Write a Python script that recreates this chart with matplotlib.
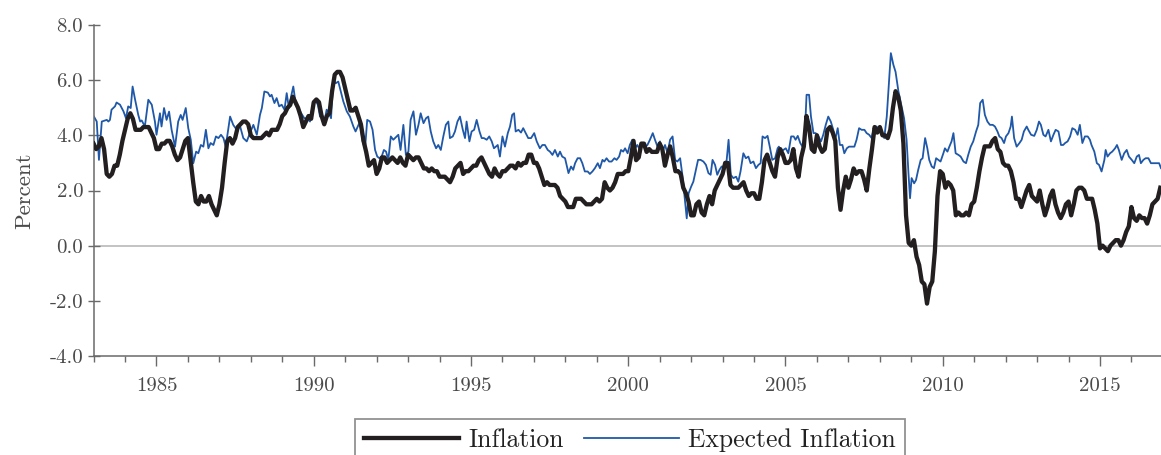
import numpy as np
import matplotlib
matplotlib.use("Agg")
import matplotlib.pyplot as plt
from matplotlib.ticker import MultipleLocator, FixedLocator

# ---------------- data ----------------
start_year = 1983
inflation = [
    3.7, 3.5, 3.6, 3.9, 3.5, 2.6, 2.5, 2.6, 2.9, 2.9, 3.3, 3.8,   # 1983
    4.2, 4.6, 4.8, 4.6, 4.2, 4.2, 4.2, 4.3, 4.3, 4.3, 4.1, 3.9,   # 1984
    3.5, 3.5, 3.7, 3.7, 3.8, 3.8, 3.6, 3.3, 3.1, 3.2, 3.5, 3.8,   # 1985
    3.9, 3.1, 2.3, 1.6, 1.5, 1.8, 1.6, 1.6, 1.8, 1.5, 1.3, 1.1,   # 1986
    1.5, 2.1, 3.0, 3.8, 3.9, 3.7, 3.9, 4.3, 4.4, 4.5, 4.5, 4.4,   # 1987
    4.0, 3.9, 3.9, 3.9, 3.9, 4.0, 4.1, 4.0, 4.2, 4.2, 4.2, 4.4,   # 1988
    4.7, 4.8, 5.0, 5.1, 5.4, 5.2, 5.0, 4.7, 4.3, 4.5, 4.7, 4.6,   # 1989
    5.2, 5.3, 5.2, 4.7, 4.4, 4.7, 4.8, 5.6, 6.2, 6.3, 6.3, 6.1,   # 1990
    5.7, 5.3, 4.9, 4.9, 5.0, 4.7, 4.4, 3.8, 3.4, 2.9, 3.0, 3.1,   # 1991
    2.6, 2.8, 3.2, 3.2, 3.0, 3.1, 3.2, 3.1, 3.0, 3.2, 3.0, 2.9,   # 1992
    3.3, 3.2, 3.1, 3.2, 3.2, 3.0, 2.8, 2.8, 2.7, 2.8, 2.7, 2.7,   # 1993
    2.5, 2.5, 2.5, 2.4, 2.3, 2.5, 2.8, 2.9, 3.0, 2.6, 2.7, 2.7,   # 1994
    2.8, 2.9, 2.9, 3.1, 3.2, 3.0, 2.8, 2.6, 2.5, 2.8, 2.6, 2.5,   # 1995
    2.7, 2.7, 2.8, 2.9, 2.9, 2.8, 3.0, 2.9, 3.0, 3.0, 3.3, 3.3,   # 1996
    3.0, 3.0, 2.8, 2.5, 2.2, 2.3, 2.2, 2.2, 2.2, 2.1, 1.8, 1.7,   # 1997
    1.6, 1.4, 1.4, 1.4, 1.7, 1.7, 1.7, 1.6, 1.5, 1.5, 1.5, 1.6,   # 1998
    1.7, 1.6, 1.7, 2.3, 2.1, 2.0, 2.1, 2.3, 2.6, 2.6, 2.6, 2.7,   # 1999
    2.7, 3.2, 3.8, 3.1, 3.2, 3.7, 3.7, 3.4, 3.5, 3.4, 3.4, 3.4,   # 2000
    3.7, 3.5, 2.9, 3.3, 3.6, 3.2, 2.7, 2.7, 2.6, 2.1, 1.9, 1.6,   # 2001
    1.1, 1.1, 1.5, 1.6, 1.2, 1.1, 1.5, 1.8, 1.5, 2.0, 2.2, 2.4,   # 2002
    2.6, 3.0, 3.0, 2.2, 2.1, 2.1, 2.1, 2.2, 2.3, 2.0, 1.8, 1.9,   # 2003
    1.9, 1.7, 1.7, 2.3, 3.1, 3.3, 3.0, 2.7, 2.5, 3.2, 3.5, 3.3,   # 2004
    3.0, 3.0, 3.1, 3.5, 2.8, 2.5, 3.2, 3.6, 4.7, 4.3, 3.5, 3.4,   # 2005
    4.0, 3.6, 3.4, 3.5, 4.2, 4.3, 4.1, 3.8, 2.1, 1.3, 2.0, 2.5,   # 2006
    2.1, 2.4, 2.8, 2.6, 2.7, 2.7, 2.4, 2.0, 2.8, 3.5, 4.3, 4.1,   # 2007
    4.3, 4.0, 4.0, 3.9, 4.2, 5.0, 5.6, 5.4, 4.9, 3.7, 1.1, 0.1,   # 2008
    0.0, 0.2, -0.4, -0.7, -1.3, -1.4, -2.1, -1.5, -1.3, -0.2, 1.8, 2.7,  # 2009
    2.6, 2.1, 2.3, 2.2, 2.0, 1.1, 1.2, 1.1, 1.1, 1.2, 1.1, 1.5,   # 2010
    1.6, 2.1, 2.7, 3.2, 3.6, 3.6, 3.6, 3.8, 3.9, 3.5, 3.4, 3.0,   # 2011
    2.9, 2.9, 2.7, 2.3, 1.7, 1.7, 1.4, 1.7, 2.0, 2.2, 1.8, 1.7,   # 2012
    1.6, 2.0, 1.5, 1.1, 1.4, 1.8, 2.0, 1.5, 1.2, 1.0, 1.2, 1.5,   # 2013
    1.6, 1.1, 1.5, 2.0, 2.1, 2.1, 2.0, 1.7, 1.7, 1.7, 1.3, 0.8,   # 2014
    -0.1, 0.0, -0.1, -0.2, 0.0, 0.1, 0.2, 0.2, 0.0, 0.2, 0.5, 0.7,  # 2015
    1.4, 1.0, 0.9, 1.1, 1.0, 1.0, 0.8, 1.1, 1.5, 1.6, 1.7, 2.1,   # 2016
]

exp_time = [
    1983.01, 1983.10, 1983.17, 1983.26, 1983.42, 1983.47, 1983.52, 1983.57, 1983.68, 1983.73,
    1983.84, 1983.95, 1984.03, 1984.10, 1984.18, 1984.24, 1984.32, 1984.42, 1984.48, 1984.53,
    1984.63, 1984.74, 1984.85, 1984.95, 1985.00, 1985.11, 1985.16, 1985.24, 1985.32, 1985.40,
    1985.48, 1985.59, 1985.69, 1985.77, 1985.83, 1985.93, 1986.01, 1986.09, 1986.17, 1986.26,
    1986.33, 1986.41, 1986.49, 1986.57, 1986.65, 1986.72, 1986.81, 1986.89, 1986.97, 1987.05,
    1987.13, 1987.20, 1987.34, 1987.44, 1987.55, 1987.66, 1987.76, 1987.87, 1987.97, 1988.08,
    1988.19, 1988.29, 1988.35, 1988.43, 1988.54, 1988.61, 1988.66, 1988.75, 1988.82, 1988.90,
    1988.98, 1989.07, 1989.14, 1989.21, 1989.28, 1989.35, 1989.43, 1989.51, 1989.60, 1989.70,
    1989.81, 1989.88, 1989.96, 1990.04, 1990.13, 1990.20, 1990.27, 1990.34, 1990.41, 1990.49,
    1990.55, 1990.62, 1990.70, 1990.78, 1990.86, 1990.94, 1991.05, 1991.15, 1991.26, 1991.33,
    1991.40, 1991.47, 1991.55, 1991.63, 1991.70, 1991.79, 1991.87, 1991.95, 1992.02, 1992.09,
    1992.16, 1992.23, 1992.30, 1992.37, 1992.45, 1992.53, 1992.61, 1992.69, 1992.76, 1992.85,
    1992.93, 1993.01, 1993.08, 1993.17, 1993.25, 1993.33, 1993.40, 1993.49, 1993.57, 1993.64,
    1993.72, 1993.80, 1993.89, 1993.96, 1994.04, 1994.12, 1994.20, 1994.28, 1994.33, 1994.42,
    1994.49, 1994.57, 1994.65, 1994.74, 1994.81, 1994.86, 1994.95, 1995.02, 1995.10, 1995.18,
    1995.27, 1995.34, 1995.41, 1995.50, 1995.58, 1995.66, 1995.73, 1995.85, 1995.92, 1996.00,
    1996.08, 1996.17, 1996.24, 1996.31, 1996.37, 1996.42, 1996.51, 1996.59, 1996.66, 1996.74,
    1996.82, 1996.91, 1997.01, 1997.09, 1997.19, 1997.27, 1997.35, 1997.44, 1997.51, 1997.59,
    1997.67, 1997.76, 1997.83, 1997.90, 1997.99, 1998.04, 1998.10, 1998.18, 1998.25, 1998.31,
    1998.39, 1998.47, 1998.54, 1998.62, 1998.71, 1998.78, 1998.86, 1998.94, 1999.03, 1999.10,
    1999.18, 1999.24, 1999.31, 1999.39, 1999.47, 1999.56, 1999.63, 1999.71, 1999.77, 1999.84,
    1999.90, 1999.98, 2000.05, 2000.13, 2000.21, 2000.29, 2000.37, 2000.46, 2000.53, 2000.61,
    2000.69, 2000.78, 2000.85, 2000.93, 2001.01, 2001.08, 2001.17, 2001.25, 2001.33, 2001.41,
    2001.49, 2001.56, 2001.65, 2001.72, 2001.77, 2001.86, 2001.92, 2002.00, 2002.07, 2002.14,
    2002.22, 2002.30, 2002.39, 2002.47, 2002.55, 2002.62, 2002.68, 2002.76, 2002.83, 2002.90,
    2002.97, 2003.06, 2003.13, 2003.19, 2003.26, 2003.34, 2003.43, 2003.50, 2003.57, 2003.66,
    2003.74, 2003.82, 2003.89, 2003.98, 2004.06, 2004.14, 2004.21, 2004.27, 2004.35, 2004.43,
    2004.51, 2004.58, 2004.67, 2004.75, 2004.79, 2004.86, 2004.93, 2005.01, 2005.09, 2005.18,
    2005.26, 2005.32, 2005.39, 2005.47, 2005.54, 2005.60, 2005.67, 2005.75, 2005.81, 2005.89,
    2005.96, 2006.05, 2006.13, 2006.20, 2006.28, 2006.36, 2006.44, 2006.52, 2006.58, 2006.66,
    2006.73, 2006.81, 2006.87, 2006.95, 2007.02, 2007.10, 2007.19, 2007.26, 2007.34, 2007.42,
    2007.51, 2007.58, 2007.66, 2007.74, 2007.82, 2007.90, 2007.95, 2008.02, 2008.08, 2008.14,
    2008.22, 2008.29, 2008.35, 2008.43, 2008.50, 2008.59, 2008.69, 2008.77, 2008.85, 2008.91,
    2008.96, 2009.01, 2009.09, 2009.15, 2009.22, 2009.30, 2009.36, 2009.44, 2009.51, 2009.57,
    2009.65, 2009.72, 2009.79, 2009.86, 2009.93, 2010.02, 2010.07, 2010.15, 2010.21, 2010.28,
    2010.34, 2010.41, 2010.50, 2010.57, 2010.66, 2010.74, 2010.81, 2010.89, 2010.97, 2011.06,
    2011.13, 2011.19, 2011.27, 2011.34, 2011.42, 2011.50, 2011.59, 2011.66, 2011.74, 2011.80,
    2011.87, 2011.95, 2012.01, 2012.09, 2012.16, 2012.20, 2012.27, 2012.35, 2012.44, 2012.51,
    2012.58, 2012.67, 2012.72, 2012.81, 2012.91, 2012.99, 2013.06, 2013.12, 2013.20, 2013.27,
    2013.36, 2013.44, 2013.52, 2013.59, 2013.68, 2013.76, 2013.83, 2013.89, 2013.97, 2014.05,
    2014.12, 2014.21, 2014.29, 2014.36, 2014.44, 2014.52, 2014.61, 2014.68, 2014.73, 2014.82,
    2014.90, 2014.97, 2015.05, 2015.14, 2015.18, 2015.24, 2015.32, 2015.39, 2015.48, 2015.54,
    2015.60, 2015.69, 2015.77, 2015.85, 2015.92, 2016.01, 2016.09, 2016.17, 2016.24, 2016.30,
    2016.38, 2016.45, 2016.54, 2016.62, 2016.70, 2016.80, 2016.88, 2016.94,
]
exp_value = [
    4.68, 4.50, 3.11, 4.50, 4.56, 4.50, 4.56, 4.93, 5.05, 5.19,
    5.11, 4.87, 4.62, 5.05, 4.99, 5.77, 5.29, 4.74, 4.50, 4.54,
    4.32, 5.29, 5.11, 4.50, 4.02, 4.80, 4.32, 4.99, 4.56, 4.86,
    4.20, 3.59, 4.50, 4.74, 4.56, 4.99, 4.26, 3.84, 2.99, 3.41,
    3.35, 3.65, 3.59, 4.20, 3.53, 3.72, 3.65, 3.96, 3.90, 4.02,
    3.90, 3.59, 4.68, 4.38, 4.20, 4.32, 3.90, 3.78, 4.08, 4.38,
    4.02, 4.74, 4.99, 5.59, 5.55, 5.41, 5.47, 5.17, 5.35, 5.05,
    5.11, 4.93, 5.53, 4.99, 5.41, 5.77, 5.11, 4.99, 4.80, 4.62,
    4.62, 4.50, 5.05, 5.29, 5.11, 4.68, 4.74, 4.50, 4.93, 4.80,
    4.62, 6.01, 5.89, 5.95, 5.59, 5.23, 4.87, 4.68, 4.32, 4.14,
    4.32, 4.50, 3.80, 3.50, 4.56, 4.50, 4.20, 3.47, 3.23, 3.17,
    3.23, 3.47, 3.41, 3.11, 3.96, 3.84, 3.93, 4.02, 3.47, 4.38,
    3.29, 3.41, 4.56, 4.87, 4.02, 4.38, 4.80, 4.44, 4.62, 4.68,
    4.14, 3.78, 3.53, 3.65, 3.47, 3.96, 4.38, 4.50, 3.90, 3.96,
    4.14, 4.50, 4.68, 4.20, 3.90, 4.50, 3.78, 4.14, 4.20, 4.56,
    4.14, 3.90, 3.90, 3.84, 3.96, 3.78, 3.53, 3.65, 3.23, 3.96,
    3.59, 4.08, 4.32, 4.74, 4.80, 4.14, 4.20, 4.10, 4.26, 4.08,
    3.90, 3.90, 4.08, 3.78, 3.53, 3.65, 3.65, 3.47, 3.41, 3.29,
    3.47, 3.23, 3.41, 3.23, 3.17, 2.93, 2.63, 2.87, 2.75, 2.99,
    3.17, 3.17, 2.99, 2.69, 2.69, 2.60, 2.69, 2.81, 2.99, 2.81,
    3.11, 3.05, 3.17, 3.05, 3.05, 3.17, 3.11, 3.23, 3.47, 3.41,
    3.53, 3.35, 3.65, 3.84, 3.53, 3.65, 3.47, 3.72, 3.59, 3.65,
    3.84, 4.08, 3.84, 3.59, 3.78, 3.41, 3.65, 3.35, 3.84, 3.96,
    3.11, 3.05, 3.17, 2.57, 2.02, 0.99, 1.90, 2.14, 2.32, 2.69,
    3.11, 3.11, 3.05, 2.93, 2.63, 2.57, 3.11, 2.93, 2.57, 2.75,
    2.87, 2.87, 3.11, 3.84, 2.57, 2.45, 2.50, 2.32, 2.69, 3.35,
    3.17, 3.23, 2.99, 3.05, 2.81, 2.93, 2.99, 3.96, 3.90, 3.98,
    3.53, 3.11, 3.17, 3.53, 3.59, 3.41, 3.47, 3.53, 3.35, 3.96,
    3.96, 3.84, 3.98, 3.72, 3.59, 3.65, 5.47, 5.47, 4.68, 4.08,
    4.08, 3.96, 3.78, 4.02, 4.38, 4.68, 4.50, 4.20, 3.84, 4.26,
    3.65, 3.65, 3.35, 3.53, 3.59, 3.59, 3.59, 3.84, 4.26, 4.20,
    4.20, 4.08, 4.02, 3.90, 4.32, 4.32, 4.08, 4.26, 4.02, 3.90,
    4.68, 5.89, 6.98, 6.56, 6.30, 5.60, 5.05, 4.62, 3.84, 2.63,
    1.72, 2.45, 2.26, 2.38, 2.75, 3.11, 3.17, 3.90, 3.53, 3.11,
    2.87, 2.81, 3.17, 3.11, 3.05, 3.35, 3.53, 3.41, 3.59, 3.78,
    4.08, 3.35, 3.29, 3.23, 3.05, 2.99, 3.29, 3.59, 3.78, 4.14,
    4.38, 5.17, 5.29, 4.74, 4.50, 4.38, 4.38, 4.32, 4.14, 3.96,
    3.90, 3.72, 3.96, 4.08, 4.32, 4.68, 3.90, 3.59, 3.72, 3.84,
    4.14, 4.32, 4.20, 4.02, 3.98, 4.20, 4.50, 4.38, 4.02, 3.96,
    4.20, 3.78, 4.02, 4.20, 4.14, 3.65, 3.65, 3.72, 3.78, 3.96,
    4.26, 4.20, 4.02, 4.38, 3.72, 3.96, 3.96, 3.84, 3.65, 3.41,
    2.99, 2.93, 2.69, 3.11, 3.47, 3.23, 3.35, 3.41, 3.53, 3.65,
    3.47, 3.11, 3.35, 3.47, 3.23, 3.11, 2.99, 3.23, 3.29, 2.99,
    3.11, 3.17, 3.17, 2.99, 2.99, 2.99, 2.99, 2.81,
]

y_ticks = [-4.0, -2.0, 0.0, 2.0, 4.0, 6.0, 8.0]
x_major = [1985, 1990, 1995, 2000, 2005, 2010, 2015]
series_labels = ["Inflation", "Expected Inflation"]
y_label = "Percent"

# ---------------- style ----------------
plt.rcParams["font.family"] = ["cmr10", "DejaVu Serif"]
plt.rcParams["axes.unicode_minus"] = False

W, H = 1161, 455
fig = plt.figure(figsize=(W / 100, H / 100), dpi=100)
ax = fig.add_axes([93.6 / W, 1 - 356 / H, (W - 93.6) / W, (356 - 25) / H])

infl_time = start_year + np.arange(len(inflation)) / 12.0

txt_color = "#4a4a4a"
spine_color = "#6a6a6a"

ax.axhline(0, color="#b3b3b3", lw=1.1, zorder=1)
l1, = ax.plot(infl_time, inflation, color="#231f20", lw=3.1, zorder=3,
              solid_joinstyle="round", label=series_labels[0])
l2, = ax.plot(exp_time, exp_value, color="#1f58a8", lw=1.3, zorder=2,
              label=series_labels[1])

ax.set_xlim(1983.0, 2016.94)
ax.set_ylim(-4, 8)

for s in ["top", "right"]:
    ax.spines[s].set_visible(False)
for s in ["left", "bottom"]:
    ax.spines[s].set_color(spine_color)
    ax.spines[s].set_linewidth(1.1)

ax.yaxis.set_major_locator(FixedLocator(y_ticks))
ax.set_yticklabels([f"{v:.1f}" for v in y_ticks])
ax.xaxis.set_major_locator(FixedLocator(x_major))
ax.set_xticklabels([str(v) for v in x_major])
ax.xaxis.set_minor_locator(MultipleLocator(1))

ax.tick_params(axis="y", which="major", direction="inout", length=9, width=1.0,
               color=spine_color, labelsize=15, labelcolor=txt_color, pad=3)
ax.tick_params(axis="x", which="major", direction="out", length=7, width=1.0,
               color=spine_color, labelsize=15, labelcolor=txt_color, pad=8)
ax.tick_params(axis="x", which="minor", direction="out", length=4, width=1.0,
               color=spine_color)

ax.set_ylabel(y_label, fontsize=16.5, color=txt_color, labelpad=11)

leg = fig.legend(handles=[l1, l2], labels=series_labels, loc="upper center",
                 bbox_to_anchor=(630 / W, 1 - 419 / H), ncol=2, frameon=True,
                 fancybox=False, fontsize=18.5, handlelength=3.7,
                 handletextpad=0.35, columnspacing=0.8, borderpad=0.35,
                 borderaxespad=0)
leg.get_frame().set_edgecolor("#777777")
leg.get_frame().set_linewidth(1.3)
for t in leg.get_texts():
    t.set_color("#222222")

fig.savefig("out.png", dpi=100)
